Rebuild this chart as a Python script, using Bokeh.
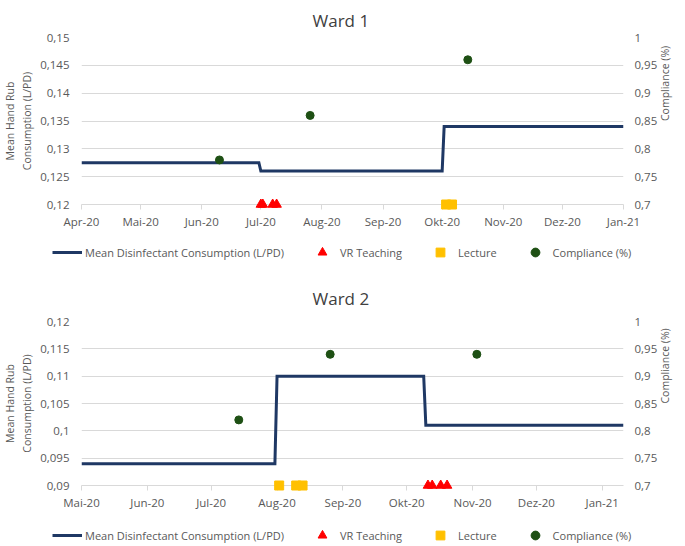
import math
import pandas as pd
from bokeh.plotting import figure
from bokeh.models import (Range1d, LinearAxis, FixedTicker, CustomJSTickFormatter,
                          Legend, LegendItem, ColumnDataSource)
from bokeh.layouts import column
from bokeh.embed import file_html
from bokeh.resources import INLINE

# ---------------- Ward 1 data ----------------
w1_line_dates = ["2020-04-01", "2020-06-30", "2020-07-01", "2020-10-01", "2020-10-02", "2021-01-01"]
w1_line_vals = [0.1275, 0.1275, 0.126, 0.126, 0.134, 0.134]
w1_vr_dates = ["2020-07-01", "2020-07-02", "2020-07-07", "2020-07-09"]
w1_vr_vals = [0.12, 0.12, 0.12, 0.12]
w1_lecture_dates = ["2020-10-03", "2020-10-06"]
w1_lecture_vals = [0.12, 0.12]
w1_comp_dates = ["2020-06-10", "2020-07-26", "2020-10-14"]
w1_comp_vals = [0.78, 0.86, 0.96]
w1_month_ticks = ["2020-04-01", "2020-05-01", "2020-06-01", "2020-07-01", "2020-08-01",
                  "2020-09-01", "2020-10-01", "2020-11-01", "2020-12-01", "2021-01-01"]
w1_month_labels = ["Apr-20", "Mai-20", "Jun-20", "Jul-20", "Aug-20",
                   "Sep-20", "Okt-20", "Nov-20", "Dez-20", "Jan-21"]
w1_left_ticks = [0.12, 0.125, 0.13, 0.135, 0.14, 0.145, 0.15]
w1_right_ticks = [0.7, 0.75, 0.8, 0.85, 0.9, 0.95, 1.0]

# ---------------- Ward 2 data ----------------
w2_line_dates = ["2020-05-01", "2020-07-31", "2020-08-01", "2020-10-09", "2020-10-10", "2021-01-11"]
w2_line_vals = [0.094, 0.094, 0.110, 0.110, 0.101, 0.101]
w2_vr_dates = ["2020-10-11", "2020-10-13", "2020-10-17", "2020-10-20"]
w2_vr_vals = [0.09, 0.09, 0.09, 0.09]
w2_lecture_dates = ["2020-08-02", "2020-08-10", "2020-08-13"]
w2_lecture_vals = [0.09, 0.09, 0.09]
w2_comp_dates = ["2020-07-14", "2020-08-26", "2020-11-03"]
w2_comp_vals = [0.82, 0.94, 0.94]
w2_month_ticks = ["2020-05-01", "2020-06-01", "2020-07-01", "2020-08-01",
                  "2020-09-01", "2020-10-01", "2020-11-01", "2020-12-01", "2021-01-01"]
w2_month_labels = ["Mai-20", "Jun-20", "Jul-20", "Aug-20",
                   "Sep-20", "Okt-20", "Nov-20", "Dez-20", "Jan-21"]
w2_left_ticks = [0.09, 0.095, 0.1, 0.105, 0.11, 0.115, 0.12]
w2_right_ticks = [0.7, 0.75, 0.8, 0.85, 0.9, 0.95, 1.0]

legend_labels = ["Mean Disinfectant Consumption (L/PD)", "VR Teaching", "Lecture", "Compliance (%)"]

LINE_C = "#1F3864"
VR_C = "#FF0000"
LEC_C = "#FFC000"
COMP_C = "#1E5014"
GRID_C = "#D9D9D9"
TXT_C = "#595959"
FONT = "Open Sans"

NUM_FMT = "return String(parseFloat(tick.toFixed(4))).replace('.', ',');"
DATE_FMT = """
let best = 0;
for (let i = 1; i < tvals.length; i++) {
  if (Math.abs(tvals[i] - tick) < Math.abs(tvals[best] - tick)) { best = i; }
}
return tlabels[best];
"""

LINE_KW = dict(line_width=3, line_color=LINE_C, line_join="miter")
VR_KW = dict(marker="triangle", size=9.5, fill_color=VR_C, line_color=VR_C)
LEC_KW = dict(marker="square", size=9, fill_color=LEC_C, line_color=LEC_C)
COMP_KW = dict(marker="circle", size=8, fill_color=COMP_C, line_color=COMP_C)


def ms(d):
    return pd.Timestamp(d).value / 1e6


def make_ward(title, x_start, x_end, y_lo, y_hi, line_dates, line_vals, vr_dates, vr_vals,
              lec_dates, lec_vals, comp_dates, comp_vals, month_ticks, month_labels,
              left_ticks, right_ticks, height, b_top, b_bottom, title_standoff):
    p = figure(width=685, height=height, x_axis_type="datetime",
               x_range=Range1d(pd.Timestamp(x_start), pd.Timestamp(x_end)),
               y_range=Range1d(y_lo, y_hi),
               output_backend="svg", toolbar_location=None,
               min_border_left=79, min_border_right=62,
               min_border_top=b_top, min_border_bottom=b_bottom)
    p.extra_y_ranges = {"right": Range1d(right_ticks[0], right_ticks[-1])}
    p.outline_line_color = None
    p.background_fill_color = "white"
    p.border_fill_color = "white"

    p.title.text = title
    p.title.text_font = FONT
    p.title.text_font_size = "17px"
    p.title.text_font_style = "normal"
    p.title.text_color = "#404040"
    p.title.align = "left"
    p.title.offset = 231
    p.title.standoff = title_standoff

    p.xgrid.grid_line_color = None
    p.ygrid.ticker = FixedTicker(ticks=left_ticks)
    p.ygrid.grid_line_color = GRID_C
    p.ygrid.grid_line_width = 1

    tick_ms = [ms(d) for d in month_ticks]
    xa = p.xaxis[0]
    xa.ticker = FixedTicker(ticks=tick_ms)
    xa.formatter = CustomJSTickFormatter(args=dict(tvals=tick_ms, tlabels=month_labels), code=DATE_FMT)
    xa.axis_line_color = GRID_C
    xa.major_tick_line_color = GRID_C
    xa.major_tick_out = 5
    xa.major_tick_in = 0
    xa.minor_tick_line_color = None
    xa.major_label_standoff = 4
    xa.major_label_text_font = FONT
    xa.major_label_text_font_size = "11.5px"
    xa.major_label_text_color = TXT_C

    ya = p.yaxis[0]
    ya.ticker = FixedTicker(ticks=left_ticks)
    ya.formatter = CustomJSTickFormatter(code=NUM_FMT)
    ya.axis_line_color = None
    ya.major_tick_line_color = None
    ya.minor_tick_line_color = None
    ya.major_tick_out = 0
    ya.major_tick_in = 0
    ya.major_label_standoff = 12
    ya.major_label_text_font = FONT
    ya.major_label_text_font_size = "11.5px"
    ya.major_label_text_color = TXT_C
    ya.axis_label = "Mean Hand Rub\nConsumption (L/PD)"
    ya.axis_label_text_font = FONT
    ya.axis_label_text_font_size = "10.5px"
    ya.axis_label_text_font_style = "normal"
    ya.axis_label_text_color = TXT_C
    ya.axis_label_standoff = 3

    ra = LinearAxis(y_range_name="right", ticker=FixedTicker(ticks=right_ticks),
                    formatter=CustomJSTickFormatter(code=NUM_FMT))
    ra.axis_line_color = None
    ra.major_tick_line_color = None
    ra.minor_tick_line_color = None
    ra.major_tick_out = 0
    ra.major_tick_in = 0
    ra.major_label_standoff = 11
    ra.major_label_text_font = FONT
    ra.major_label_text_font_size = "11.5px"
    ra.major_label_text_color = TXT_C
    ra.axis_label = "Compliance (%)"
    ra.axis_label_text_font = FONT
    ra.axis_label_text_font_size = "10.5px"
    ra.axis_label_text_font_style = "normal"
    ra.axis_label_text_color = TXT_C
    ra.axis_label_standoff = 5
    try:
        ra.axis_label_orientation = math.pi / 2
    except Exception:
        pass
    p.add_layout(ra, "right")

    srcs = dict(
        line=ColumnDataSource(dict(x=pd.to_datetime(line_dates), y=line_vals)),
        vr=ColumnDataSource(dict(x=pd.to_datetime(vr_dates), y=vr_vals)),
        lec=ColumnDataSource(dict(x=pd.to_datetime(lec_dates), y=lec_vals)),
        comp=ColumnDataSource(dict(x=pd.to_datetime(comp_dates), y=comp_vals)),
    )

    p.line("x", "y", source=srcs["line"], **LINE_KW)
    p.scatter("x", "y", source=srcs["vr"], level="overlay", **VR_KW)
    p.scatter("x", "y", source=srcs["lec"], level="overlay", **LEC_KW)
    p.scatter("x", "y", source=srcs["comp"], y_range_name="right", level="overlay", **COMP_KW)
    return p, srcs


def make_legend_fig(srcs, height, vx, vy):
    # legend strip: shares the ward's data sources, its ranges keep the data out of view,
    # so only the legend keys and labels are visible
    lf = figure(width=685, height=height, output_backend="svg", toolbar_location=None,
                x_axis_location=None, y_axis_location=None, min_border=0,
                x_range=Range1d(0, 1), y_range=Range1d(0, 1))
    lf.outline_line_color = None
    lf.background_fill_color = "white"
    lf.border_fill_color = "white"
    try:
        lf.frame_align = False
    except Exception:
        pass
    for g in lf.grid:
        g.visible = False
    r1 = lf.line("x", "y", source=srcs["line"], **LINE_KW)
    r2 = lf.scatter("x", "y", source=srcs["vr"], **VR_KW)
    r3 = lf.scatter("x", "y", source=srcs["lec"], **LEC_KW)
    r4 = lf.scatter("x", "y", source=srcs["comp"], **COMP_KW)
    legend = Legend(items=[LegendItem(label=lab, renderers=[r])
                           for lab, r in zip(legend_labels, [r1, r2, r3, r4])],
                    orientation="horizontal", location=(vx, vy), spacing=23, glyph_width=30,
                    glyph_height=22, label_height=22, label_standoff=3, padding=0, margin=0,
                    border_line_color=None, background_fill_alpha=0,
                    label_text_font=FONT, label_text_font_size="11px", label_text_color=TXT_C)
    lf.add_layout(legend)
    return lf


p1, s1 = make_ward("Ward 1", "2020-04-01", "2021-01-01", 0.12, 0.15,
                   w1_line_dates, w1_line_vals, w1_vr_dates, w1_vr_vals,
                   w1_lecture_dates, w1_lecture_vals, w1_comp_dates, w1_comp_vals,
                   w1_month_ticks, w1_month_labels, w1_left_ticks, w1_right_ticks,
                   height=236, b_top=37, b_bottom=32, title_standoff=11)
leg1 = make_legend_fig(s1, 36, 52, 9)
p2, s2 = make_ward("Ward 2", "2020-05-01", "2021-01-11", 0.09, 0.12,
                   w2_line_dates, w2_line_vals, w2_vr_dates, w2_vr_vals,
                   w2_lecture_dates, w2_lecture_vals, w2_comp_dates, w2_comp_vals,
                   w2_month_ticks, w2_month_labels, w2_left_ticks, w2_right_ticks,
                   height=240, b_top=49, b_bottom=25, title_standoff=23)
leg2 = make_legend_fig(s2, 34, 52, 0)

layout = column(p1, leg1, p2, leg2)
open("out.html", "w").write(file_html(layout, INLINE))
